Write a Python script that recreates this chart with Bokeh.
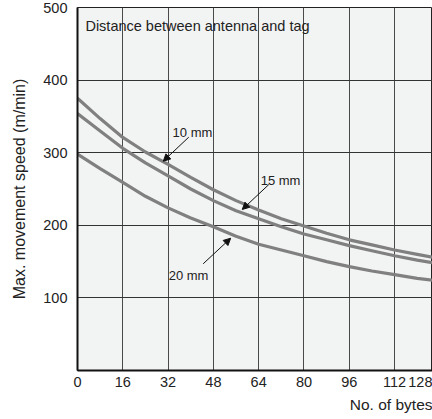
from bokeh.plotting import figure
from bokeh.models import FixedTicker, Label, Arrow, NormalHead, Range1d, Title
from bokeh.embed import file_html
from bokeh.resources import INLINE

# ---- data ----
x_bytes = [0, 8, 16, 24, 32, 40, 48, 56, 64, 72, 80, 88, 96, 104, 112, 120, 128]
speed_10mm = [375, 347, 321, 301, 284, 266, 249, 234, 221, 209, 199, 189, 180, 173, 166, 160, 154]
speed_15mm = [354, 330, 306, 286, 268, 250, 234, 220, 209, 198, 188, 180, 172, 165, 158, 152, 147]
speed_20mm = [298, 278, 259, 240, 224, 210, 198, 185, 174, 166, 158, 150, 143, 137, 132, 127, 123]
x_ticks = [0, 16, 32, 48, 64, 80, 96, 112]
x_tick_labels = ["0", "16", "32", "48", "64", "80", "96", "112"]
last_tick_label = "128"
y_ticks = [100, 200, 300, 400, 500]
y_grid = [100, 200, 300, 400]
x_grid = [16, 32, 48, 64, 80, 96, 112]

FONT = "Liberation Sans"
TXT = "#222222"
CURVE = "#808080"

X_END = 125.4          # the reference is cropped a little before x = 128
LAST_LABEL_POS = 121.2  # where the cropped "128" label is kept visible

p = figure(width=432, height=419, output_backend="svg", toolbar_location=None,
           x_range=Range1d(0, X_END), y_range=Range1d(0, 500),
           min_border_left=77, min_border_right=0, min_border_top=7,
           min_border_bottom=49)
p.background_fill_color = "#f2f3f3"
p.border_fill_color = "white"
p.outline_line_color = "#222222"
p.outline_line_width = 1

# grid
p.xgrid.ticker = FixedTicker(ticks=x_grid)
p.ygrid.ticker = FixedTicker(ticks=y_grid)
p.xgrid.grid_line_color = "#4a4a4a"
p.ygrid.grid_line_color = "#333333"
p.xgrid.grid_line_width = 1
p.ygrid.grid_line_width = 1

# axes
for ax in (p.xaxis[0], p.yaxis[0]):
    ax.axis_line_color = "#111111"
    ax.axis_line_width = 2
    ax.major_tick_line_color = None
    ax.minor_tick_line_color = None
    ax.major_label_text_font = FONT
    ax.major_label_text_font_size = "14.5px"
    ax.major_label_text_color = TXT
    ax.axis_label_text_font = FONT
    ax.axis_label_text_font_style = "normal"
    ax.axis_label_text_color = TXT

overrides = {t: s for t, s in zip(x_ticks, x_tick_labels)}
overrides[LAST_LABEL_POS] = last_tick_label
p.xaxis[0].ticker = FixedTicker(ticks=x_ticks + [LAST_LABEL_POS])
p.xaxis[0].major_label_overrides = overrides
p.xaxis[0].major_label_standoff = 0
p.yaxis[0].ticker = FixedTicker(ticks=y_ticks)
p.yaxis[0].major_label_standoff = 4
p.yaxis[0].axis_label = "Max. movement speed (m/min)"
p.yaxis[0].axis_label_text_font_size = "16px"
p.yaxis[0].axis_label_standoff = 12

p.add_layout(Title(text="No. of bytes", align="right", text_font=FONT,
                   text_font_size="15.5px", text_font_style="normal",
                   text_color=TXT, standoff=9), "below")

# curves
for ys in (speed_10mm, speed_15mm, speed_20mm):
    p.line(x_bytes, ys, line_color=CURVE, line_width=3.2, line_join="round")

def lab(x, y, t, size="13px", align="left", baseline="alphabetic"):
    p.add_layout(Label(x=x, y=y, text=t, text_font=FONT, text_font_size=size,
                       text_color=TXT, text_align=align, text_baseline=baseline))

lab(2.8, 474, "Distance between antenna and tag", size="14.5px")
lab(33.6, 327.5, "10 mm")
lab(64.7, 261.5, "15 mm")
lab(32.2, 130.5, "20 mm")

def arrow(x0, y0, x1, y1):
    p.add_layout(Arrow(x_start=x0, y_start=y0, x_end=x1, y_end=y1,
                       line_color="#111111", line_width=1,
                       end=NormalHead(size=7, fill_color="#111111",
                                      line_color="#111111", line_width=1)))

arrow(39.3, 321.4, 30.3, 288.3)
arrow(67.6, 256.2, 58.2, 221.8)
arrow(44.4, 147.0, 54.1, 182.2)

open("out.html", "w").write(file_html(p, INLINE))
